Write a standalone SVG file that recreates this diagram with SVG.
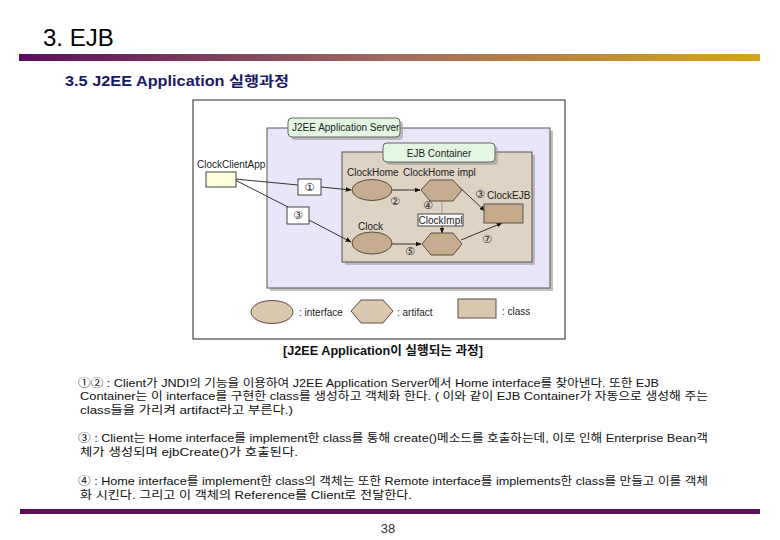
<svg xmlns="http://www.w3.org/2000/svg" width="780" height="540" viewBox="0 0 780 540">
<defs>
<linearGradient id="bar" x1="0" y1="0" x2="1" y2="0">
<stop offset="0" stop-color="#5a0e5e"/>
<stop offset="0.5" stop-color="#a36a5e"/>
<stop offset="1" stop-color="#d6a516"/>
</linearGradient>
<marker id="ah" viewBox="0 0 10 10" refX="9" refY="5" markerWidth="6" markerHeight="6" orient="auto" markerUnits="userSpaceOnUse">
<path d="M0,1 L10,5 L0,9 z" fill="#111"/>
</marker>
</defs>
<style>
.t{font-family:"Liberation Sans","Noto Sans CJK KR",sans-serif;}
.d{font-family:"Liberation Sans","DejaVu Sans",sans-serif;font-size:10px;fill:#222;}
.n{font-family:"DejaVu Sans","Noto Sans CJK KR",sans-serif;font-size:11px;fill:#222;}
.b{font-family:"Liberation Sans","Noto Sans CJK KR",sans-serif;font-size:11px;fill:#111;}
.shape{fill:#c6ad90;stroke:#5e4e3e;stroke-width:1;}
.leg{fill:#dac7af;stroke:#5e4e3e;stroke-width:1;}
.sh{fill:#9a9a9a;opacity:0.6;}
.lbl{fill:#fff;stroke:#444;stroke-width:1;}
.c{fill:none;stroke:#333;stroke-width:1;}
</style>

<!-- header -->
<text class="t" x="43" y="46" font-size="24" fill="#000">3. EJB</text>
<rect x="19" y="54" width="741" height="7" fill="url(#bar)"/>
<text class="t" x="65" y="86" font-size="14" font-weight="bold" fill="#1a1a66" textLength="224" lengthAdjust="spacingAndGlyphs">3.5 J2EE Application 실행과정</text>

<!-- frame -->
<rect x="193" y="100" width="372" height="239" fill="#fff" stroke="#222" stroke-width="1"/>

<!-- J2EE Application Server -->
<g id="server">
<rect class="sh" x="270" y="131" width="283" height="160"/>
<rect x="267" y="128" width="283" height="160" fill="#e8e6f8" stroke="#555"/>
<rect class="sh" x="291" y="121" width="112" height="19" rx="4"/>
<rect x="288" y="118" width="112" height="19" rx="4" fill="#e3f6e2" stroke="#666"/>
<text class="d" x="292" y="131">J2EE Application Server</text>
</g>

<!-- EJB Container -->
<g id="container">
<rect class="sh" x="345" y="155" width="190" height="110"/>
<rect x="342" y="152" width="190" height="110" fill="#dfd3c4" stroke="#555"/>
<rect class="sh" x="386" y="146" width="112" height="19" rx="4"/>
<rect x="383" y="143" width="112" height="19" rx="4" fill="#e3f6e2" stroke="#666"/>
<text class="d" x="439" y="157" text-anchor="middle" font-size="11">EJB Container</text>
</g>

<!-- connectors -->
<g id="connectors">
<line class="c" x1="235" y1="179" x2="298" y2="185"/>
<line class="c" x1="321" y1="187" x2="351" y2="190" marker-end="url(#ah)"/>
<line class="c" x1="235" y1="180" x2="288" y2="207"/>
<line class="c" x1="309" y1="220" x2="351" y2="242" marker-end="url(#ah)"/>
<line class="c" x1="392" y1="190" x2="420" y2="190" marker-end="url(#ah)"/>
<line class="c" x1="456" y1="184" x2="485" y2="211" marker-end="url(#ah)"/>
<line x1="442" y1="201" x2="442" y2="214" stroke="#999" stroke-width="1"/>
<line class="c" x1="442" y1="226" x2="442" y2="233" marker-end="url(#ah)"/>
<line class="c" x1="392" y1="244" x2="421" y2="244" marker-end="url(#ah)"/>
<line class="c" x1="461" y1="240" x2="502" y2="223" marker-end="url(#ah)"/>
</g>

<!-- ClockClientApp -->
<g id="client">
<text class="d" x="197" y="168">ClockClientApp</text>
<rect x="206" y="172" width="30" height="15" fill="#ffffdc" stroke="#444"/>
</g>

<g id="step1">
<rect class="lbl" x="298" y="179" width="23" height="16"/>
<text class="n" x="309.5" y="191" text-anchor="middle">①</text>
</g>
<g id="step3">
<rect class="lbl" x="287" y="207" width="22" height="17"/>
<text class="n" x="298" y="219" text-anchor="middle">③</text>
</g>

<!-- ClockHome -->
<g id="clockhome">
<text class="d" x="347" y="176">ClockHome</text>
<ellipse class="shape" cx="372" cy="190" rx="20" ry="10.5"/>
</g>
<g id="clockhomeimpl">
<text class="d" x="403" y="176">ClockHome impl</text>
<polygon class="shape" points="421,190 430,180 453,180 462,190 453,201 430,201"/>
</g>
<g id="clockejb">
<text class="n" x="480" y="198" text-anchor="middle">③</text>
<text class="d" x="487" y="199">ClockEJB</text>
<rect x="484" y="204" width="39" height="19" fill="#c7a988" stroke="#555"/>
</g>
<g id="clock">
<text class="d" x="358" y="230">Clock</text>
<ellipse class="shape" cx="372" cy="243" rx="20" ry="11"/>
</g>
<g id="clockimpllabel">
<rect class="lbl" x="418" y="214" width="45" height="12"/>
<text class="d" x="440.5" y="223.5" text-anchor="middle">ClockImpl</text>
</g>
<g id="clockimpl">
<polygon class="shape" points="422,244 431,233 453,233 462,244 453,255 431,255"/>
</g>

<!-- step numbers -->
<g id="nums">
<text class="n" x="395" y="205" text-anchor="middle">②</text>
<text class="n" x="428" y="209" text-anchor="middle">④</text>
<text class="n" x="410" y="255" text-anchor="middle">⑤</text>
<text class="n" x="487" y="243" text-anchor="middle">⑦</text>
</g>

<!-- legend -->
<g id="legend">
<ellipse class="leg" cx="272" cy="312" rx="21" ry="11.5"/>
<text class="d" x="299" y="316">: interface</text>
<polygon class="leg" points="351,311 361,300 383,300 393,311 383,323 361,323"/>
<text class="d" x="397" y="316">: artifact</text>
<rect class="leg" x="458" y="299" width="38" height="19"/>
<text class="d" x="502" y="315">: class</text>
</g>

<!-- caption -->
<text class="t" x="383" y="355" font-size="12" font-weight="bold" fill="#111" text-anchor="middle" textLength="200" lengthAdjust="spacingAndGlyphs">[J2EE Application이 실행되는 과정]</text>

<!-- body text -->
<text class="b" x="78" y="387" textLength="581" lengthAdjust="spacingAndGlyphs">①② : Client가 JNDI의 기능을 이용하여 J2EE Application Server에서 Home interface를 찾아낸다. 또한 EJB</text>
<text class="b" x="80" y="400" textLength="628" lengthAdjust="spacingAndGlyphs">Container는 이 interface를 구현한 class를 생성하고 객체화 한다. ( 이와 같이 EJB Container가 자동으로 생성해 주는</text>
<text class="b" x="80" y="414" textLength="213" lengthAdjust="spacingAndGlyphs">class들을 가리켜 artifact라고 부른다.)</text>
<text class="b" x="78" y="442" textLength="630" lengthAdjust="spacingAndGlyphs">③ : Client는 Home interface를 implement한 class를 통해 create()메소드를 호출하는데, 이로 인해 Enterprise Bean객</text>
<text class="b" x="80" y="456" textLength="218" lengthAdjust="spacingAndGlyphs">체가 생성되며 ejbCreate()가 호출된다.</text>
<text class="b" x="78" y="485" textLength="630" lengthAdjust="spacingAndGlyphs">④ : Home interface를 implement한 class의 객체는 또한 Remote interface를 implements한 class를 만들고 이를 객체</text>
<text class="b" x="80" y="499" textLength="332" lengthAdjust="spacingAndGlyphs">화 시킨다. 그리고 이 객체의 Reference를 Client로 전달한다.</text>

<!-- footer -->
<rect x="20" y="509" width="740" height="5" fill="#5c0d5a"/>
<text class="t" x="388" y="533" font-size="13" fill="#333" text-anchor="middle">38</text>
</svg>
